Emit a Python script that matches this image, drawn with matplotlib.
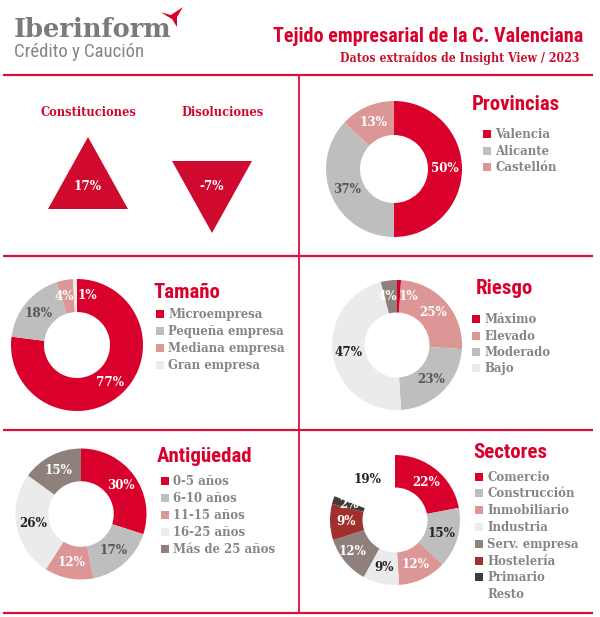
import matplotlib
matplotlib.use('Agg')
import matplotlib.pyplot as plt
from matplotlib import font_manager as fm
from matplotlib.patches import Polygon, Rectangle
import numpy as np

# ---------------- data ----------------
tri_labels = ['Constituciones', 'Disoluciones']
tri_values = [17, -7]

prov_labels = ['Valencia', 'Alicante', 'Castellón']
prov_values = [50, 37, 13]

tam_labels = ['Microempresa', 'Pequeña empresa', 'Mediana empresa', 'Gran empresa']
tam_values = [77, 18, 4, 1]

riesgo_labels = ['Máximo', 'Elevado', 'Moderado', 'Bajo', '']
riesgo_values = [1, 25, 23, 47, 4]

ant_labels = ['0-5 años', '6-10 años', '11-15 años', '16-25 años', 'Más de 25 años']
ant_values = [30, 17, 12, 26, 15]

sec_labels = ['Comercio', 'Construcción', 'Inmobiliario', 'Industria',
              'Serv. empresa', 'Hostelería', 'Primario', 'Resto']
sec_values = [22, 15, 12, 9, 12, 9, 2, 19]

# ---------------- style ----------------
RED = '#D9002B'
GRAY = '#BEBEBE'
PINK = '#DC9696'
LIGHT = '#EBEBEB'
BROWN = '#8E807B'
DRED = '#A0302E'
DARK = '#3C3C3C'
LINE = '#D8103A'
TXTG = '#858585'

avail = {f.name for f in fm.fontManager.ttflist}
def pick(*names):
    for n in names:
        if n in avail:
            return n
    return 'DejaVu Sans'

NARROW = pick('Liberation Sans Narrow', 'Roboto Condensed', 'Open Sans Condensed', 'Roboto')
SERIF = pick('DejaVu Serif', 'Liberation Serif')
has_cond = any(f.name == SERIF and str(f.stretch) in ('condensed', 'semi-condensed', '500', '300')
               for f in fm.fontManager.ttflist)

W, H = 600, 617
fig = plt.figure(figsize=(6, 6.17), dpi=100)
ov = fig.add_axes([0, 0, 1, 1])
ov.set_xlim(0, W)
ov.set_ylim(H, 0)
ov.axis('off')

def serif_kw(size):
    return dict(family=SERIF, fontweight='bold',
                fontstretch='condensed' if has_cond else 'normal',
                fontsize=size if has_cond else size * 0.9)

# ---------------- header ----------------
ov.text(14, 37, 'Iberinform', family=SERIF, fontweight='bold', fontsize=18.5,
        color='#7A7A7A', ha='left', va='baseline')
ov.text(14, 52, 'Crédito y Caución', family=NARROW, fontsize=13.5,
        color='#858585', ha='left', va='center')
logo = Polygon([(161, 12.5), (171, 15), (183, 7), (177, 17), (177, 27), (172, 19)],
               closed=True, color=RED, lw=0)
ov.add_patch(logo)
ov.text(583, 36, 'Tejido empresarial de la C. Valenciana', family=NARROW,
        fontweight='bold', fontsize=14.5, color=RED, ha='right', va='center')
ov.text(580, 58, 'Datos extraídos de Insight View / 2023', color='#C8102E',
        ha='right', va='center', **serif_kw(8.8))

# ---------------- grid lines ----------------
lk = dict(color=LINE, lw=1.6, solid_capstyle='butt')
ov.plot([3, 593], [75, 75], **lk)
ov.plot([3, 593], [255.5, 255.5], **lk)
ov.plot([3, 593], [430, 430], **lk)
ov.plot([3, 593], [612.5, 612.5], **lk)
ov.plot([299, 299], [75, 612.5], color=LINE, lw=1.3)

# ---------------- triangles ----------------
tri_cx = [88, 212]
title_dx = [0, 11]
for lab, val, cx, dx in zip(tri_labels, tri_values, tri_cx, title_dx):
    cy, hw, h = 185, 40, 72
    ov.text(cx + dx, 113, lab, color='#D00A2F', ha='center', va='center', **serif_kw(9.2))
    s = 1 if val >= 0 else -1
    pts = [(cx - hw, cy + s * h / 3), (cx + hw, cy + s * h / 3), (cx, cy - s * 2 * h / 3)]
    ov.add_patch(Polygon(pts, closed=True, color='#D00A2F', lw=0))
    ov.text(cx, cy + 1, f'{val}%', color='white', ha='center', va='center', **serif_kw(9.5))

# ---------------- donuts ----------------
def donut(cx, cy, r, values, colors, tcolors, nudges=None):
    ax = fig.add_axes([(cx - r) / W, 1 - (cy + r) / H, 2 * r / W, 2 * r / H])
    ax.pie(values, colors=colors, startangle=90, counterclock=False, radius=1,
           wedgeprops=dict(width=0.5, linewidth=0))
    ax.set_xlim(-1, 1)
    ax.set_ylim(-1, 1)
    ax.set_aspect('equal')
    ax.axis('off')
    tot = float(sum(values))
    cum = 0.0
    for i, v in enumerate(values):
        mid = (cum + v / 2) / tot * 2 * np.pi
        cum += v
        x, y = 0.75 * np.sin(mid), 0.75 * np.cos(mid)
        if nudges and i in nudges:
            x += nudges[i][0]
            y += nudges[i][1]
        ax.text(x, y, f'{v}%', color=tcolors[i], ha='center', va='center', **serif_kw(9.5))
    return ax

def legend(tx, ty, sx, tw, rows_y, labels, colors, title):
    ov.text(tx, ty, title, family=NARROW, fontweight='bold', fontsize=15,
            color=RED, ha='left', va='center')
    for yy, lab, col in zip(rows_y, labels, colors):
        if not lab:
            continue
        ov.add_patch(Rectangle((sx - 4, yy - 4), 8, 8, color=col, lw=0))
        ov.text(tw, yy + 0.5, lab, color=TXTG, ha='left', va='center', **serif_kw(9.4))

# Provincias
pc = [RED, GRAY, PINK]
donut(394, 169, 68, prov_values, pc, ['white', '#555555', 'white'])
legend(472, 104, 487, 495, [134, 151, 167], prov_labels, pc, 'Provincias')

# Tamaño
tc = [RED, GRAY, PINK, LIGHT]
donut(77, 345, 66, tam_values, tc, ['white', '#555555', 'white', 'white'],
      nudges={3: (0.18, 0.0), 2: (-0.05, 0.0)})
legend(153, 293, 160, 168, [314, 331, 348, 365], tam_labels, tc, 'Tamaño')

# Riesgo
rc = [RED, PINK, GRAY, LIGHT, BROWN]
donut(397, 345, 65, riesgo_values, rc, ['white', 'white', '#555555', '#222222', 'white'],
      nudges={0: (0.15, 0.0), 4: (-0.06, 0.0)})
legend(476, 288, 476, 484, [319, 336, 352, 368, 385], riesgo_labels, rc, 'Riesgo')

# Antigüedad
ac = [RED, GRAY, PINK, LIGHT, BROWN]
donut(81, 514, 65.5, ant_values, ac, ['white', '#555555', 'white', '#222222', 'white'])
legend(157, 457, 164.5, 173, [481, 498, 515, 532, 549], ant_labels, ac, 'Antigüedad')

# Sectores
sc = [RED, GRAY, PINK, LIGHT, BROWN, DRED, DARK, 'white']
donut(395, 520, 65, sec_values, sc,
      ['white', '#222222', 'white', '#222222', 'white', 'white', 'white', '#222222'],
      nudges={4: (-0.08, 0.0)})
legend(473, 452, 478.5, 487, [477, 493, 510, 527, 544, 561, 577, 594], sec_labels, sc, 'Sectores')

fig.savefig('out.png', dpi=100)
